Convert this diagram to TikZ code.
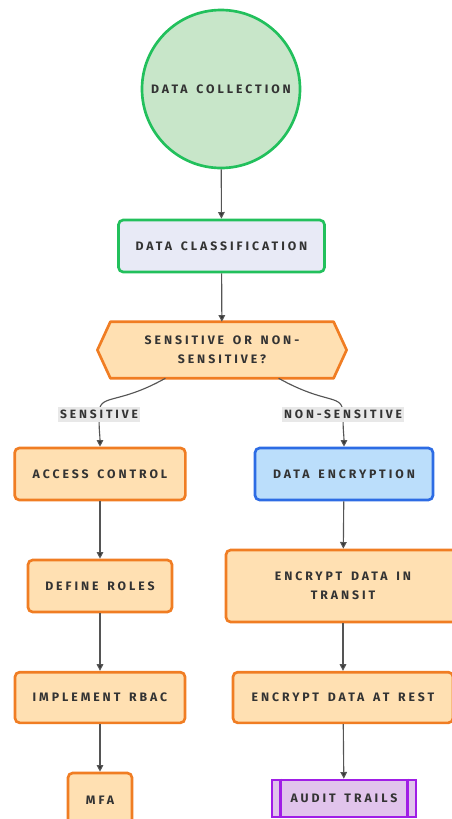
\documentclass[tikz,border=0pt]{standalone}
\usepackage{fontspec}
\setmainfont{Fira Sans}[LetterSpace=24,WordSpace=1.5]
\usetikzlibrary{arrows.meta,backgrounds}
\definecolor{txt}{HTML}{333333}
\definecolor{grnB}{RGB}{34,192,92}
\definecolor{grnF}{HTML}{C8E6C9}
\definecolor{lavF}{HTML}{E8EAF6}
\definecolor{orB}{RGB}{240,125,35}
\definecolor{orF}{HTML}{FFE0B2}
\definecolor{blB}{RGB}{45,108,228}
\definecolor{blF}{HTML}{BBDEFB}
\definecolor{puB}{RGB}{160,30,230}
\definecolor{puF}{HTML}{E1C4EC}
\definecolor{edge}{HTML}{555555}
\definecolor{lblF}{HTML}{E8E8E8}
\tikzset{
  base/.style={font=\bfseries\fontsize{9.2}{14}\selectfont, text=txt, align=center, inner sep=2pt},
  circ/.style={base, circle, draw=grnB, fill=grnF, line width=2pt, minimum size=118.5pt},
  gbox/.style={base, rectangle, rounded corners=3.5pt, draw=grnB, fill=lavF, line width=2pt},
  obox/.style={base, rectangle, rounded corners=3.5pt, draw=orB, fill=orF, line width=2pt},
  bbox/.style={base, rectangle, rounded corners=3.5pt, draw=blB, fill=blF, line width=2pt},
  pbox/.style={base, rectangle, draw=puB, fill=puF, line width=2pt},
  flow/.style={draw=edge, line width=0.85pt, -{Triangle[length=5pt,width=5pt,fill=txt]}},
  elbl/.style={font=\bfseries\fontsize{9}{11}\selectfont, text=txt, fill=lblF, inner xsep=1.5pt, inner ysep=2.5pt}
}
\begin{document}
\begin{tikzpicture}[x=0.75pt,y=-0.75pt]
\useasboundingbox (0,0) rectangle (451,819);
\node[circ] (coll) at (221,89) {DATA COLLECTION};
\node[gbox, minimum width=154.5pt, minimum height=39pt] (class) at (221.5,246) {DATA CLASSIFICATION};
\node[base, minimum width=167pt, minimum height=42pt] (hex) at (222,350) {SENSITIVE OR NON-\\SENSITIVE?};
\begin{pgfonlayer}{background}
\draw[draw=orB, fill=orF, line width=2pt, line join=round]
  (hex.north west) -- (hex.north east) -- ([xshift=9.75pt]hex.east) -- (hex.south east)
  -- (hex.south west) -- ([xshift=-9.75pt]hex.west) -- cycle;
\end{pgfonlayer}
\node[obox, minimum width=128pt, minimum height=39pt] (access) at (100,474) {ACCESS CONTROL};
\node[bbox, minimum width=133.5pt, minimum height=39pt] (encr) at (344,474) {DATA ENCRYPTION};
\node[obox, minimum width=108pt, minimum height=39pt] (roles) at (100,586) {DEFINE ROLES};
\node[obox, minimum width=175.5pt, minimum height=54pt] (transit) at (343,586) {ENCRYPT DATA IN\\TRANSIT};
\node[obox, minimum width=127.5pt, minimum height=38pt] (rbac) at (100,697.5) {IMPLEMENT RBAC};
\node[obox, minimum width=165pt, minimum height=38pt] (rest) at (343,697.5) {ENCRYPT DATA AT REST};
\node[obox, minimum width=48pt, minimum height=40.5pt] (mfa) at (100,800) {MFA};
\node[pbox, minimum width=108pt, minimum height=27.75pt] (audit) at (344,798.5) {AUDIT TRAILS};
\draw[puB, line width=2pt] ([xshift=7.5pt]audit.north west) -- ([xshift=7.5pt]audit.south west);
\draw[puB, line width=2pt] ([xshift=-7.5pt]audit.north east) -- ([xshift=-7.5pt]audit.south east);
\draw[flow] (coll) -- (class);
\draw[flow] (class) -- (hex);
\coordinate (hsl) at ([xshift=41.25pt]hex.south west);
\coordinate (hsr) at ([xshift=-41.25pt]hex.south east);
\node[elbl] (lblS) at (99,414.5) {SENSITIVE};
\node[elbl] (lblN) at (343,414.5) {NON-SENSITIVE};
\begin{pgfonlayer}{background}
\draw[flow] (hsl) .. controls +(-50,28) and +(0,-22) .. (lblS.center) .. controls +(0,18) and +(0,-12) .. (access.north);
\draw[flow] (hsr) .. controls +(50,28) and +(0,-22) .. (lblN.center) .. controls +(0,18) and +(0,-12) .. (encr.north);
\end{pgfonlayer}
\draw[flow] (access) -- (roles);
\draw[flow] (roles) -- (rbac);
\draw[flow] (rbac) -- (mfa);
\draw[flow] (encr) -- (transit);
\draw[flow] (transit) -- (rest);
\draw[flow] (rest) -- (audit);
\end{tikzpicture}
\end{document}
